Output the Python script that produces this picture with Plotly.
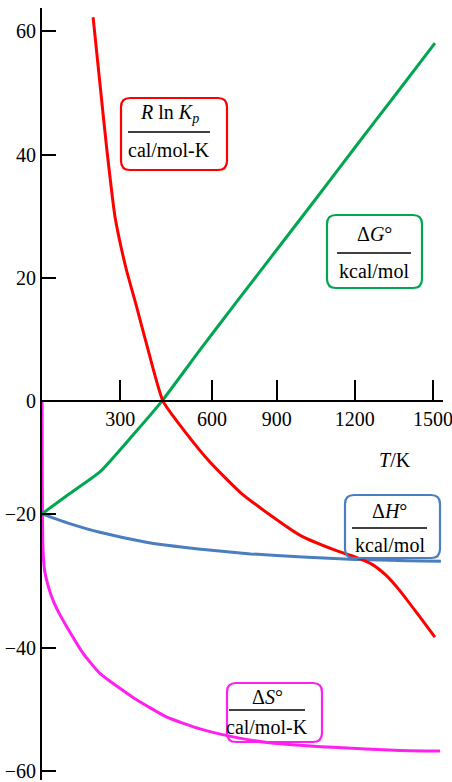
import plotly.graph_objects as go

# ---- data ----
T_rlnk = [196, 222, 249, 280, 322, 361, 407, 464, 549, 644, 760, 875, 990, 1124, 1200, 1266, 1320, 1373, 1440, 1507]
rlnk = [62.3, 51.6, 40.7, 29.9, 21.6, 15.6, 8.3, 0.0, -5.0, -9.9, -14.8, -18.5, -21.8, -24.2, -25.3, -26.5, -28.3, -30.8, -34.5, -38.3]

T_dG = [0, 100, 222, 349, 460, 606, 750, 901, 1050, 1201, 1350, 1507]
dG = [-18.3, -15.2, -11.5, -5.5, 0.0, 8.3, 16.3, 24.6, 32.8, 41.2, 49.4, 58.1]

T_dH = [0, 100, 222, 400, 600, 800, 1000, 1200, 1400, 1530]
dH = [-18.3, -19.8, -21.3, -22.9, -24.0, -24.8, -25.3, -25.7, -25.9, -26.0]

T_dS = [0, 1, 2, 4, 10, 23, 42, 69, 96, 157, 222, 349, 479, 606, 733, 863, 1116, 1373, 1527]
dS = [0.0, -12.0, -19.3, -24.2, -27.5, -29.9, -32.3, -34.7, -36.7, -40.9, -44.2, -48.1, -51.3, -53.2, -54.5, -55.4, -56.2, -56.7, -56.8]

x_tick_vals = [300, 652, 900, 1200, 1500]
x_tick_text = ["300", "600", "900", "1200", "1500"]
y_tick_vals = [60, 40, 20, 0, -18.3, -40, -60]
y_tick_text = ["60", "40", "20", "0", "\u221220", "\u221240", "\u221260"]

RED = "#ff0000"
GREEN = "#00a650"
BLUE = "#4a7ebf"
MAGENTA = "#ff20f0"
FONT = "Liberation Serif"

fig = go.Figure()
for xs, ys, c in [(T_dS, dS, MAGENTA), (T_dH, dH, BLUE), (T_dG, dG, GREEN), (T_rlnk, rlnk, RED)]:
    fig.add_trace(go.Scatter(x=xs, y=ys, mode="lines", line=dict(color=c, width=3, shape="spline", smoothing=0.5),
                             showlegend=False, hoverinfo="skip"))

W, H = 452, 782
ML, MR, MT, MB = 42, 9, 8, 2
PW, PH = W - ML - MR, H - MT - MB


def px(xp):
    return (xp - ML) / PW


def py(yp):
    return (H - MB - yp) / PH


def rrect(x0, y0, x1, y1, r=9):
    a, b = px(x0), py(y1)
    c, d = px(x1), py(y0)
    rx, ry = r / PW, r / PH
    return (f"M {a+rx},{b} L {c-rx},{b} Q {c},{b} {c},{b+ry} L {c},{d-ry} Q {c},{d} {c-rx},{d} "
            f"L {a+rx},{d} Q {a},{d} {a},{d-ry} L {a},{b+ry} Q {a},{b} {a+rx},{b} Z")


shapes = []
annots = []
boxes = [
    ((121, 98, 227, 170), 132, 128, 210, 113, 150, "<i>R</i> ln <i>K<sub>p</sub></i>", "cal/mol-K", RED),
    ((327, 215, 422, 288), 253, 337, 411, 234, 271, "\u0394<i>G</i>\u00b0", "kcal/mol", GREEN),
    ((345, 495, 440, 558), 528, 352, 427, 511, 545, "\u0394<i>H</i>\u00b0", "kcal/mol", BLUE),
    ((227, 683, 322, 742), 710, 229, 305, 697, 727, "\u0394<i>S</i>\u00b0", "cal/mol-K", MAGENTA),
]
for (x0, y0, x1, y1), ly, lx0, lx1, ny, dy, num, den, col in boxes:
    shapes.append(dict(type="path", xref="paper", yref="paper", path=rrect(x0, y0, x1, y1),
                       line=dict(color=col, width=2.2), fillcolor="rgba(255,255,255,0)"))
    shapes.append(dict(type="line", xref="paper", yref="paper", x0=px(lx0), x1=px(lx1), y0=py(ly), y1=py(ly),
                       line=dict(color="black", width=1.6)))
    cx = px((lx0 + lx1) / 2)
    annots.append(dict(xref="paper", yref="paper", x=cx, y=py(ny), text=num, showarrow=False,
                       xanchor="center", yanchor="middle", font=dict(family=FONT, size=20, color="black")))
    annots.append(dict(xref="paper", yref="paper", x=cx, y=py(dy), text=den, showarrow=False,
                       xanchor="center", yanchor="middle", font=dict(family=FONT, size=20, color="black")))

annots.append(dict(xref="paper", yref="paper", x=px(395), y=py(460), text="<i>T</i>/K", showarrow=False,
                   xanchor="center", yanchor="middle", font=dict(family=FONT, size=20, color="black")))

fig.update_layout(
    width=W, height=H,
    margin=dict(l=ML, r=MR, t=MT, b=MB, pad=0, autoexpand=False),
    paper_bgcolor="white", plot_bgcolor="white",
    shapes=shapes, annotations=annots,
    xaxis=dict(range=[0, 1538], showgrid=False, zeroline=False, showline=True, linecolor="black", linewidth=2,
               ticks="inside", ticklen=20, tickwidth=2, tickcolor="black",
               tickvals=x_tick_vals, ticktext=x_tick_text, automargin=False, ticklabeloverflow="allow",
               tickfont=dict(family=FONT, size=20, color="black"),
               anchor="free", position=py(401)),
    yaxis=dict(range=[-61.5, 63.8], showgrid=False, zeroline=False, showline=True, linecolor="black", linewidth=2,
               ticks="inside", ticklen=14, tickwidth=2, tickcolor="black", automargin=False,
               ticklabeloverflow="allow",
               tickvals=y_tick_vals, ticktext=y_tick_text,
               tickfont=dict(family=FONT, size=20, color="black")),
)

fig.write_html("out.html", config={"displayModeBar": False},
               post_script="document.body.style.margin='0';document.body.style.overflow='hidden';")
